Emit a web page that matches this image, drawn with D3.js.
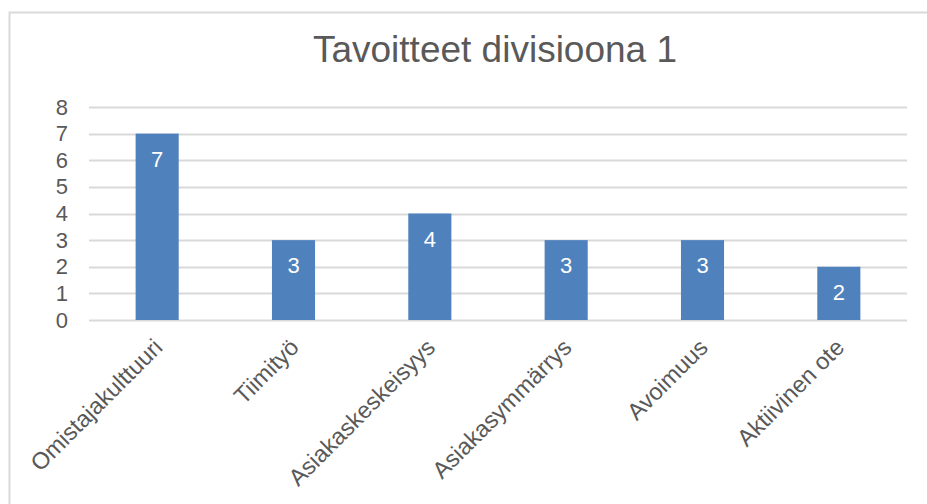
<!DOCTYPE html>
<html>
<head>
<meta charset="utf-8">
<script src="https://cdn.jsdelivr.net/npm/d3@7"></script>
<style>
  html, body { margin: 0; padding: 0; background: #fff; }
  svg { display: block; font-family: "Liberation Sans", Arial, sans-serif; }
</style>
</head>
<body>
<svg id="chart" width="927" height="504"></svg>
<script>
// Goals per category, division 1
const title = "Tavoitteet divisioona 1";
const categories = ["Omistajakulttuuri", "Tiimityö", "Asiakaskeskeisyys", "Asiakasymmärrys", "Avoimuus", "Aktiivinen ote"];
const values = [7, 3, 4, 3, 3, 2];
const yTicks = [0, 1, 2, 3, 4, 5, 6, 7, 8];

const svg = d3.select("#chart");
const W = 927, H = 504;
const plot = { left: 89, right: 907, top: 107, bottom: 320 };

const textColor = "#595959";
const gridColor = "#D9D9D9";
const barColor = "#4F81BD";

// chart frame
svg.append("rect")
  .attr("x", 9.5).attr("y", 12.5)
  .attr("width", W + 20).attr("height", H + 20)
  .attr("fill", "#fff")
  .attr("stroke", gridColor).attr("stroke-width", 2);

const x = d3.scaleBand()
  .domain(categories)
  .range([plot.left, plot.right])
  .paddingInner(0.684)
  .paddingOuter(0.342);

const y = d3.scaleLinear()
  .domain([0, 8])
  .range([plot.bottom, plot.top]);

// title
svg.append("text")
  .attr("x", 495).attr("y", 62)
  .attr("text-anchor", "middle")
  .attr("fill", textColor)
  .style("font-size", "37px")
  .text(title);

// gridlines
svg.append("g")
  .selectAll("line")
  .data(yTicks)
  .join("line")
  .attr("x1", plot.left).attr("x2", plot.right)
  .attr("y1", d => Math.round(y(d)) + 0.5)
  .attr("y2", d => Math.round(y(d)) + 0.5)
  .attr("stroke", gridColor)
  .attr("stroke-width", 2);

// y axis labels
const yAxis = d3.axisLeft(y).tickValues(yTicks).tickSize(0).tickPadding(0);
const yg = svg.append("g")
  .attr("transform", `translate(${plot.left - 21},0)`)
  .call(yAxis);
yg.select(".domain").remove();
yg.selectAll("text")
  .attr("fill", textColor)
  .style("font-size", "22px")
  .style("font-family", "'Liberation Sans', Arial, sans-serif");

// bars
svg.append("g")
  .selectAll("rect")
  .data(values)
  .join("rect")
  .attr("x", (d, i) => x(categories[i]))
  .attr("width", x.bandwidth())
  .attr("y", d => y(d))
  .attr("height", d => y(0) - y(d))
  .attr("fill", barColor);

// value labels inside bars
svg.append("g")
  .selectAll("text")
  .data(values)
  .join("text")
  .attr("x", (d, i) => x(categories[i]) + x.bandwidth() / 2)
  .attr("y", d => y(d) + 33)
  .attr("text-anchor", "middle")
  .attr("fill", "#fff")
  .style("font-size", "22px")
  .text(d => d);

// rotated category labels
svg.append("g")
  .selectAll("text")
  .data(categories)
  .join("text")
  .attr("transform", d => `translate(${x(d) + x.bandwidth() / 2 + 1},${plot.bottom + 23}) rotate(-45)`)
  .attr("text-anchor", "end")
  .attr("dy", "0.35em")
  .attr("fill", textColor)
  .style("font-size", "23.5px")
  .text(d => d);
</script>
</body>
</html>
